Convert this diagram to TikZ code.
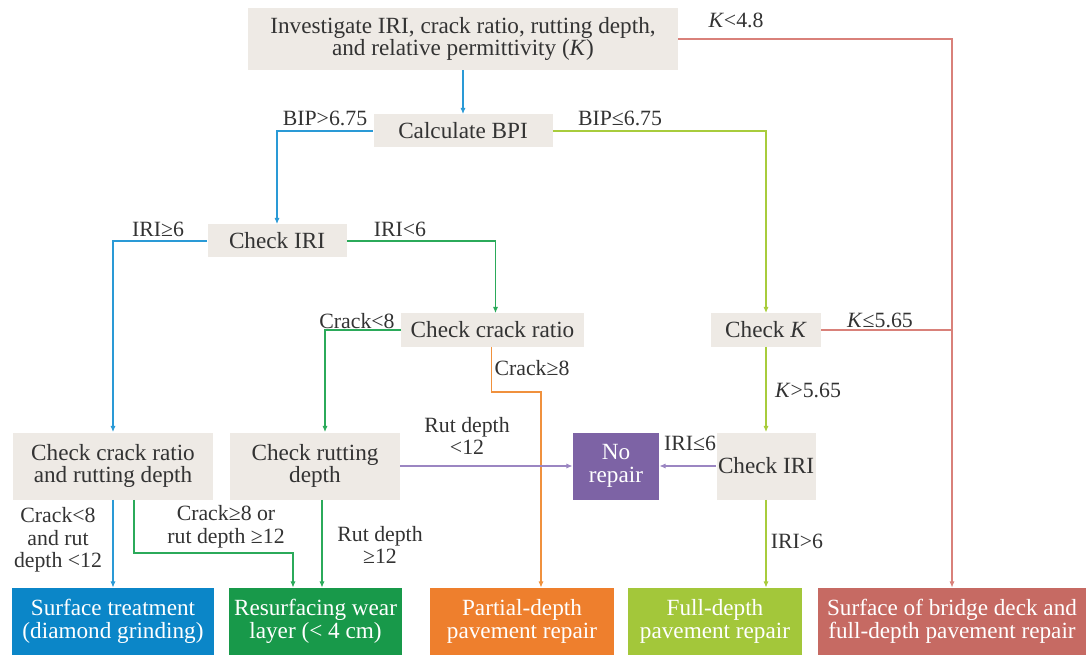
\documentclass[tikz,border=0pt]{standalone}
\usepackage{fontspec}
\setmainfont{Liberation Serif}
\usepackage{xcolor}
\usepackage{tikz}
\usetikzlibrary{arrows.meta}
\definecolor{boxgray}{HTML}{EEEAE5}
\definecolor{txt}{HTML}{333333}
\definecolor{lblue}{HTML}{2A9AD6}
\definecolor{lgreen}{HTML}{2BAA5A}
\definecolor{lyellow}{HTML}{A8CC3C}
\definecolor{lred}{HTML}{D9817A}
\definecolor{lorange}{HTML}{F0913D}
\definecolor{lpurple}{HTML}{9B86C2}
\definecolor{fblue}{HTML}{0B86C8}
\definecolor{fgreen}{HTML}{18994A}
\definecolor{forange}{HTML}{EE7F2D}
\definecolor{fyellow}{HTML}{A3C73A}
\definecolor{fred}{HTML}{C66A63}
\definecolor{fpurple}{HTML}{7D63A5}

\begin{document}
\begin{tikzpicture}[x=0.25mm,y=-0.25mm,>={Latex[length=1.6mm,width=1.3mm]},
  box/.style={fill=boxgray,inner sep=1pt,align=center,text=txt,font=\fontsize{16.5}{16}\selectfont},
  endbox/.style={inner sep=1pt,align=center,text=white,minimum height=16.75mm,font=\fontsize{16.5}{16}\selectfont},
  lab/.style={inner sep=1pt,align=center,text=txt,font=\fontsize{15.5}{16}\selectfont},
  link/.style={line width=0.9pt}]
  \useasboundingbox (0,0) rectangle (1086,655);
  \node[box,minimum width=107.5mm,minimum height=15.5mm] (inv) at (463,39) {Investigate IRI, crack ratio, rutting depth,\\and relative permittivity (\textit{K})};
  \node[box,minimum width=44.75mm,minimum height=8.25mm] (bpi) at (463,131) {Calculate BPI};
  \node[box,minimum width=34.75mm,minimum height=8.25mm] (iri1) at (277,241) {Check IRI};
  \node[box,minimum width=45.75mm,minimum height=8.25mm] (crk) at (492.5,330) {Check crack ratio};
  \node[box,minimum width=27.5mm,minimum height=8.25mm] (chkk) at (766,330) {Check \textit{K}};
  \node[box,minimum width=50mm,minimum height=16.75mm] (both) at (113,466) {Check crack ratio\\and rutting depth};
  \node[box,minimum width=42.5mm,minimum height=16.75mm] (rut) at (315,466) {Check rutting\\depth};
  \node[box,fill=fpurple,text=white,minimum width=21.5mm,minimum height=16.75mm] (nor) at (616,466) {No\\repair};
  \node[box,minimum width=24.75mm,minimum height=16.75mm] (iri2) at (766,466) {Check IRI};
  \node[endbox,fill=fblue,minimum width=50.5mm] (surf) at (113,621.5) {Surface treatment\\(diamond grinding)};
  \node[endbox,fill=fgreen,minimum width=43.25mm] (resurf) at (315.5,621.5) {Resurfacing wear\\layer (< 4 cm)};
  \node[endbox,fill=forange,minimum width=46mm] (partial) at (522,621.5) {Partial-depth\\pavement repair};
  \node[endbox,fill=fyellow,minimum width=43.5mm] (full) at (715,621.5) {Full-depth\\pavement repair};
  \node[endbox,fill=fred,minimum width=67mm] (bridge) at (952,621.5) {Surface of bridge deck and\\full-depth pavement repair};
  \node[lab] (l1) at (736,20) {\textit{K}<4.8};
  \node[lab] (l2) at (325,118) {BIP>6.75};
  \node[lab] (l3) at (620,118) {BIP≤6.75};
  \node[lab] (l4) at (158,229) {IRI≥6};
  \node[lab] (l5) at (400,229) {IRI<6};
  \node[lab] (l6) at (357,321) {Crack<8};
  \node[lab] (l7) at (532,368) {Crack≥8};
  \node[lab] (l8) at (880,320) {\textit{K}≤5.65};
  \node[lab] (l9) at (808,390) {\textit{K}>5.65};
  \node[lab] (l10) at (467,436) {Rut depth\\<12};
  \node[lab] (l11) at (690,443) {IRI≤6};
  \node[lab] (l12) at (58,540) {Crack<8\\and rut\\depth <12};
  \node[lab] (l13) at (226,527) {Crack≥8 or\\rut depth ≥12};
  \node[lab] (l14) at (380,545) {Rut depth\\≥12};
  \node[lab] (l15) at (797,541) {IRI>6};
  \coordinate (crkbend) at (541,392);
  \coordinate (orbend) at (293,553);
  \draw[->, lblue, link] (inv) -- (bpi);
  \draw[->, lblue, link] (bpi.west) -| (iri1.north);
  \draw[->, lyellow, link] (bpi.east) -| (chkk.north);
  \draw[->, lblue, link] (iri1.west) -| (both.north);
  \draw[->, lgreen, link] (iri1.east) -| ([xshift=0.75mm]crk.north);
  \draw[->, lgreen, link] (crk.west) -| ([xshift=2.5mm]rut.north);
  \draw[->, lorange, link] ([xshift=-0.25mm]crk.south) |- (crkbend) -- (crkbend |- partial.north);
  \draw[->, lred, link] (inv.east) -| (bridge.north);
  \draw[lred, link] (chkk.east) -- (chkk.east -| bridge.north);
  \draw[->, lyellow, link] (chkk) -- (iri2);
  \draw[->, lpurple, link] (rut.east) -- (nor.west);
  \draw[->, lpurple, link] (iri2.west) -- (nor.east);
  \draw[->, lyellow, link] (iri2.south) -- (iri2.south |- full.north);
  \draw[->, lblue, link] (both.south) -- (surf.north);
  \draw[->, lgreen, link] ([xshift=5.25mm]both.south) |- (orbend) -- (orbend |- resurf.north);
  \draw[->, lgreen, link] ([xshift=1.75mm]rut.south) -- ([xshift=1.75mm]rut.south |- resurf.north);
\end{tikzpicture}
\end{document}
